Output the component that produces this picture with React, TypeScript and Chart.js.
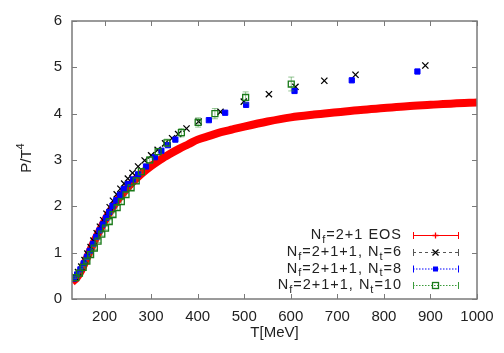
import { useEffect, useRef } from 'react';
import { Chart, registerables } from 'chart.js';

Chart.register(...registerables);

const FONT = '"Liberation Sans", Arial, Helvetica, sans-serif';

// X axis (temperature, MeV) and Y axis (P/T^4) ticks
const xTicks = [200, 300, 400, 500, 600, 700, 800, 900, 1000];
const yTicks = [0, 1, 2, 3, 4, 5, 6];

// Nf=2+1 EOS (dense band)
const eosT = [130, 140, 150, 160, 170, 180, 190, 200, 210, 220, 230, 240, 250, 260, 280, 300, 320, 340, 360, 380, 400, 425, 450, 475, 500, 550, 600, 650, 700, 750, 800, 850, 900, 950, 1000];
const eosP = [0.36, 0.46, 0.62, 0.84, 1.07, 1.29, 1.49, 1.68, 1.86, 2.02, 2.16, 2.29, 2.41, 2.52, 2.71, 2.87, 3.01, 3.13, 3.24, 3.34, 3.44, 3.52, 3.60, 3.66, 3.72, 3.83, 3.92, 3.98, 4.03, 4.08, 4.12, 4.16, 4.19, 4.22, 4.24];

// Nf=2+1+1, Nt=6
const nt6T = [136, 143, 150, 157, 163, 170, 176, 183, 190, 197, 204, 211, 218, 226, 234, 242, 250, 260, 272, 286, 300, 314, 330, 345, 358, 376, 402, 449, 499, 553, 610, 672, 739, 889];
const nt6P = [0.48, 0.58, 0.70, 0.84, 0.98, 1.12, 1.26, 1.42, 1.56, 1.70, 1.84, 1.98, 2.12, 2.26, 2.38, 2.49, 2.60, 2.72, 2.86, 2.99, 3.10, 3.22, 3.36, 3.47, 3.56, 3.68, 3.83, 4.04, 4.26, 4.42, 4.58, 4.71, 4.84, 5.04];

// Nf=2+1+1, Nt=8
const nt8T = [134, 141, 148, 155, 162, 168, 175, 182, 189, 196, 203, 210, 217, 225, 233, 241, 250, 261, 272, 289, 308, 322, 336, 352, 424, 459, 504, 608, 731, 872];
const nt8P = [0.44, 0.53, 0.64, 0.77, 0.91, 1.04, 1.19, 1.34, 1.48, 1.61, 1.75, 1.88, 2.01, 2.13, 2.25, 2.37, 2.48, 2.58, 2.69, 2.86, 3.06, 3.20, 3.32, 3.44, 3.86, 4.02, 4.19, 4.49, 4.72, 4.91];

// Nf=2+1+1, Nt=10 (with errors)
const nt10T = [138, 146, 154, 162, 170, 178, 186, 194, 202, 210, 218, 227, 236, 246, 257, 268, 279, 297, 315, 334, 365, 401, 437, 503, 601];
const nt10P = [0.46, 0.56, 0.68, 0.82, 0.96, 1.10, 1.25, 1.40, 1.53, 1.67, 1.82, 1.97, 2.10, 2.25, 2.40, 2.55, 2.75, 3.00, 3.18, 3.37, 3.59, 3.81, 4.00, 4.35, 4.64];
const nt10E = [0.02, 0.02, 0.02, 0.03, 0.03, 0.03, 0.03, 0.04, 0.04, 0.04, 0.04, 0.05, 0.05, 0.05, 0.05, 0.06, 0.06, 0.07, 0.07, 0.08, 0.09, 0.10, 0.11, 0.12, 0.15];

const pts = (T: number[], P: number[]) => T.map((t, i) => ({ x: t, y: P[i] }));

const FRAME = '#7a7a7a';
const TEXT = '#222222';

const framePlugin = {
  id: 'gnuframe',
  afterDraw(chart: any) {
    const { ctx, chartArea: a, scales } = chart;
    ctx.save();
    ctx.strokeStyle = FRAME;
    ctx.lineWidth = 1.5;
    ctx.strokeRect(a.left, a.top, a.right - a.left, a.bottom - a.top);
    ctx.lineWidth = 1;
    ctx.beginPath();
    const tl = 5;
    for (const v of xTicks) {
      const x = Math.round(scales.x.getPixelForValue(v)) + 0.5;
      ctx.moveTo(x, a.bottom); ctx.lineTo(x, a.bottom - tl);
      ctx.moveTo(x, a.top); ctx.lineTo(x, a.top + tl);
    }
    for (const v of yTicks) {
      const y = Math.round(scales.y.getPixelForValue(v)) + 0.5;
      ctx.moveTo(a.left, y); ctx.lineTo(a.left + tl, y);
      ctx.moveTo(a.right, y); ctx.lineTo(a.right - tl, y);
    }
    ctx.stroke();
    ctx.restore();
  },
};

const errorPlugin = {
  id: 'errbars',
  beforeDatasetDraw(chart: any, args: any) {
    const ds = chart.data.datasets[args.index];
    if (!ds.err) return;
    const { ctx, scales } = chart;
    ctx.save();
    ctx.strokeStyle = ds.errColor;
    ctx.lineWidth = 1;
    ctx.beginPath();
    ds.data.forEach((p: any, i: number) => {
      const x = scales.x.getPixelForValue(p.x);
      const y1 = scales.y.getPixelForValue(p.y - ds.err[i]);
      const y2 = scales.y.getPixelForValue(p.y + ds.err[i]);
      ctx.moveTo(x, y1); ctx.lineTo(x, y2);
      ctx.moveTo(x - 3, y1); ctx.lineTo(x + 3, y1);
      ctx.moveTo(x - 3, y2); ctx.lineTo(x + 3, y2);
    });
    ctx.stroke();
    ctx.restore();
  },
};

type Part = { t: string; sub?: boolean };

function drawRich(ctx: any, parts: Part[], xRight: number, y: number, size: number) {
  const mainF = `${size}px ${FONT}`;
  const subF = `${Math.round(size * 0.75)}px ${FONT}`;
  ctx.letterSpacing = '1px';
  let w = 0;
  for (const p of parts) { ctx.font = p.sub ? subF : mainF; w += ctx.measureText(p.t).width; }
  let x = xRight - w;
  ctx.textAlign = 'left';
  ctx.textBaseline = 'middle';
  for (const p of parts) {
    ctx.font = p.sub ? subF : mainF;
    ctx.fillText(p.t, x, p.sub ? y + size * 0.32 : y);
    x += ctx.measureText(p.t).width;
  }
  ctx.letterSpacing = '0px';
}

const legendRows: { parts: Part[]; color: string; line: string; dash: number[]; marker: string }[] = [
  { parts: [{ t: 'N' }, { t: 'f', sub: true }, { t: '=2+1 EOS' }], color: '#ff0000', line: '#ff0000', dash: [], marker: 'plus' },
  { parts: [{ t: 'N' }, { t: 'f', sub: true }, { t: '=2+1+1, N' }, { t: 't', sub: true }, { t: '=6' }], color: '#000000', line: '#555555', dash: [3, 3], marker: 'cross' },
  { parts: [{ t: 'N' }, { t: 'f', sub: true }, { t: '=2+1+1, N' }, { t: 't', sub: true }, { t: '=8' }], color: '#0000ff', line: '#0000ff', dash: [1.5, 1.5], marker: 'fsquare' },
  { parts: [{ t: 'N' }, { t: 'f', sub: true }, { t: '=2+1+1, N' }, { t: 't', sub: true }, { t: '=10' }], color: '#1a7a1a', line: '#3a9a3a', dash: [1.5, 1.5], marker: 'osquare' },
];

const legendPlugin = {
  id: 'gnulegend',
  afterDraw(chart: any) {
    const { ctx } = chart;
    ctx.save();
    const rowsY = [235, 252, 268.5, 285];
    const textRight = 402;
    const x1 = 413, x2 = 458, xm = (x1 + x2) / 2;
    legendRows.forEach((r, i) => {
      const y = rowsY[i];
      ctx.fillStyle = TEXT;
      drawRich(ctx, r.parts, textRight, y, 14.5);
      ctx.strokeStyle = r.line;
      ctx.lineWidth = 1;
      ctx.setLineDash(r.dash);
      ctx.beginPath();
      ctx.moveTo(x1, y + 0.5); ctx.lineTo(x2, y + 0.5);
      ctx.stroke();
      ctx.setLineDash([]);
      ctx.beginPath();
      ctx.moveTo(x1 + 0.5, y - 3); ctx.lineTo(x1 + 0.5, y + 4);
      ctx.moveTo(x2 + 0.5, y - 3); ctx.lineTo(x2 + 0.5, y + 4);
      ctx.stroke();
      ctx.strokeStyle = r.color;
      ctx.fillStyle = r.color;
      ctx.lineWidth = 1.3;
      ctx.beginPath();
      if (r.marker === 'plus') {
        ctx.moveTo(xm - 3, y + 0.5); ctx.lineTo(xm + 3, y + 0.5);
        ctx.moveTo(xm, y - 2.5); ctx.lineTo(xm, y + 3.5);
        ctx.stroke();
      } else if (r.marker === 'cross') {
        ctx.moveTo(xm - 3, y - 2.5); ctx.lineTo(xm + 3, y + 3.5);
        ctx.moveTo(xm + 3, y - 2.5); ctx.lineTo(xm - 3, y + 3.5);
        ctx.stroke();
      } else if (r.marker === 'fsquare') {
        ctx.fillRect(xm - 2.5, y - 2, 5, 5);
      } else {
        ctx.strokeRect(xm - 3, y - 2.5, 6, 6);
      }
    });

    // y-axis title P/T^4 (rotated)
    ctx.fillStyle = TEXT;
    ctx.save();
    ctx.translate(27, 158);
    ctx.rotate(-Math.PI / 2);
    const mf = `15px ${FONT}`, sf = `11px ${FONT}`;
    ctx.font = mf; const w1 = ctx.measureText('P/T').width;
    ctx.font = sf; const w2 = ctx.measureText('4').width;
    const sx = -(w1 + w2) / 2;
    ctx.textAlign = 'left';
    ctx.textBaseline = 'middle';
    ctx.font = mf; ctx.fillText('P/T', sx, 0);
    ctx.font = sf; ctx.fillText('4', sx + w1, -6);
    ctx.restore();

    // x-axis title
    ctx.font = `15px ${FONT}`;
    ctx.textAlign = 'center';
    ctx.textBaseline = 'middle';
    ctx.fillText('T[MeV]', (chart.chartArea.left + chart.chartArea.right) / 2, 333);
    ctx.restore();
  },
};

export default function App() {
  const ref = useRef<HTMLCanvasElement | null>(null);
  useEffect(() => {
    if (!ref.current) return;
    const chart = new Chart(ref.current, {
      type: 'scatter',
      data: {
        datasets: [
          {
            label: 'Nf=2+1 EOS',
            data: pts(eosT, eosP),
            showLine: true,
            borderColor: '#ff0000',
            backgroundColor: '#ff0000',
            borderWidth: 8,
            pointRadius: 0,
            cubicInterpolationMode: 'monotone',
            order: 4,
          } as any,
          {
            label: 'Nt=6',
            data: pts(nt6T, nt6P),
            pointStyle: 'crossRot',
            pointRadius: 4.4,
            borderColor: '#000000',
            backgroundColor: '#000000',
            borderWidth: 1.3,
            order: 3,
          },
          {
            label: 'Nt=8',
            data: pts(nt8T, nt8P),
            pointStyle: 'rect',
            pointRadius: 3.7,
            borderColor: '#0000ff',
            backgroundColor: '#0000ff',
            borderWidth: 1,
            order: 2,
          },
          {
            label: 'Nt=10',
            data: pts(nt10T, nt10P),
            pointStyle: 'rect',
            pointRadius: 4.2,
            borderColor: '#1a7a1a',
            backgroundColor: 'rgba(0,0,0,0)',
            borderWidth: 1.3,
            order: 1,
            err: nt10E,
            errColor: 'rgba(60,150,60,0.55)',
          } as any,
        ],
      },
      options: {
        animation: false,
        responsive: false,
        devicePixelRatio: 1,
        layout: { padding: { left: 0, right: 27, top: 21, bottom: 0 } },
        plugins: { legend: { display: false }, tooltip: { enabled: false } },
        scales: {
          x: {
            type: 'linear',
            min: 130,
            max: 1000,
            afterBuildTicks: (s: any) => { s.ticks = xTicks.map((v) => ({ value: v })); },
            afterFit: (s: any) => { s.height = 54; },
            grid: { display: false, drawTicks: false },
            border: { display: false },
            ticks: { padding: 9, color: TEXT, font: { family: FONT, size: 15 }, maxRotation: 0, autoSkip: false, callback: (v: any) => String(v) },
          },
          y: {
            type: 'linear',
            min: 0,
            max: 6,
            afterBuildTicks: (s: any) => { s.ticks = yTicks.map((v) => ({ value: v })); },
            afterFit: (s: any) => { s.width = 72; },
            grid: { display: false, drawTicks: false },
            border: { display: false },
            ticks: { padding: 10, color: TEXT, font: { family: FONT, size: 15 }, autoSkip: false, callback: (v: any) => String(v) },
          },
        },
      },
      plugins: [errorPlugin, framePlugin, legendPlugin],
    });
    return () => chart.destroy();
  }, []);
  return (
    <div style={{ position: 'absolute', left: 0, top: 0, width: 504, height: 353, background: '#fff' }}>
      <canvas ref={ref} width={504} height={353} style={{ width: 504, height: 353, display: 'block' }} />
    </div>
  );
}
